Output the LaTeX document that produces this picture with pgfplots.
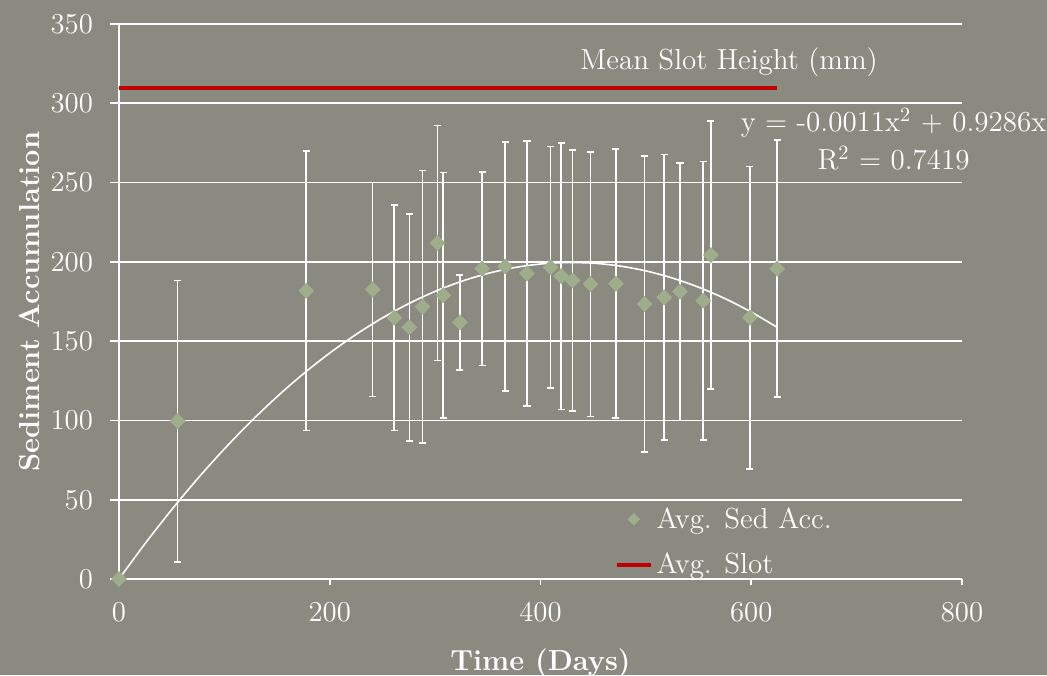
\documentclass[border=0pt]{standalone}
\usepackage{pgfplots}
\usepackage{pgfplotstable}
\pgfplotsset{compat=1.18}
\usetikzlibrary{backgrounds}
\definecolor{bg}{RGB}{138,138,128}
\definecolor{sage}{RGB}{158,174,138}
\definecolor{slot}{RGB}{192,0,0}
\pgfplotstableread{
x y err
0 0 0
55.7 99.6 88.7
177.7 181.8 88.2
240.7 182.6 67.5
261.2 164.8 71.1
275.5 158.7 71.6
288.1 171.7 86.0
302.3 211.9 74.2
307.7 178.9 77.5
323.5 161.8 30.1
344.7 195.7 61.0
366.5 197.1 78.6
387.1 192.7 83.6
409.6 196.5 76.2
419.7 191.0 84.0
430.4 188.3 82.4
447.5 186.0 83.4
471.5 186.2 84.8
498.7 173.4 93.2
517.4 177.6 90.0
532.3 181.2 81.3
554.4 175.5 87.7
561.7 204.3 84.6
598.7 164.8 95.3
624.6 195.7 81.1
}\sed
\pgfplotstableread{
x y
0 0
25 22.54
50 43.73
75 63.57
100 82.06
125 99.20
150 114.99
175 129.43
200 142.52
225 154.26
250 164.65
275 173.69
300 181.38
325 187.72
350 192.71
375 196.35
400 198.64
425 199.58
450 199.17
475 197.41
500 194.30
525 189.84
550 184.03
575 176.87
600 168.36
624.6 158.70
}\trend
\pgfplotstableread{
x y
0 309.6
624.6 309.6
}\slot
\newcommand{\fs}{\fontsize{14.5}{19}\selectfont}
\begin{document}
\begin{tikzpicture}
\begin{axis}[name=ax, scale only axis, width=421.5pt, height=277.5pt,
  xmin=0, xmax=800, ymin=0, ymax=350, clip=false,
  axis x line*=bottom, axis y line*=left,
  axis line style={white, line width=0.8pt, -},
  xtick={0,200,...,800}, ytick={0,50,...,350},
  ymajorgrids, grid style={white, line width=0.8pt},
  tick align=outside, major tick length=4.5pt,
  tick style={white, line width=0.8pt},
  xtick style={/pgfplots/major tick length=3pt},
  ticklabel style={white, font=\fs},
  yticklabel style={xshift=-5pt},
  xticklabel style={yshift=-4pt},
  xlabel={\textbf{Time (Days)}}, ylabel={\textbf{Sediment Accumulation}},
  label style={white, font=\fs},
  xlabel style={at={(axis description cs:0.5,0)}, anchor=center, yshift=-42pt},
  ylabel style={at={(axis description cs:0,0.5)}, anchor=center, yshift=44.5pt},
  legend style={at={(0.588,0.137)}, anchor=north west, draw=none, fill=none,
    text=white, font=\fs, inner sep=0pt, row sep=7pt},
  legend cell align=left,
]
\addplot[forget plot, only marks, mark=square*, mark size=2.6pt,
  mark options={rotate=45, fill=sage, draw=sage},
  error bars/.cd, y dir=both, y explicit,
  error bar style={white, line width=0.8pt},
  error mark options={white, rotate=90, mark size=1.8pt, line width=0.8pt}]
  table[x=x, y=y, y error=err]{\sed};
\addplot[forget plot, white, line width=0.8pt, smooth, no marks] table[x=x,y=y]{\trend};
\addplot[forget plot, slot, line width=1.7pt, no marks] table[x=x,y=y]{\slot};
\addlegendimage{only marks, mark=square*, mark size=2pt, mark options={rotate=45, fill=sage, draw=sage}}
\addlegendentry{Avg. Sed Acc.}
\addlegendimage{slot, line width=1.7pt}
\addlegendentry{Avg. Slot}
\node[white, font=\fs] at (axis cs:579,326) {Mean Slot Height (mm)};
\node[white, font=\fs, align=center] at (axis cs:735,277.5)
  {y = -0.0011x\textsuperscript{2} + 0.9286x\\R\textsuperscript{2} = 0.7419};
\end{axis}
\begin{scope}[on background layer]
\fill[bg] ([shift={(-59.5pt,-48pt)}]ax.south west) rectangle ([shift={(42.5pt,12pt)}]ax.north east);
\end{scope}
\pgfresetboundingbox
\path ([shift={(-59.5pt,-48pt)}]ax.south west) rectangle ([shift={(42.5pt,12pt)}]ax.north east);
\end{tikzpicture}
\end{document}
